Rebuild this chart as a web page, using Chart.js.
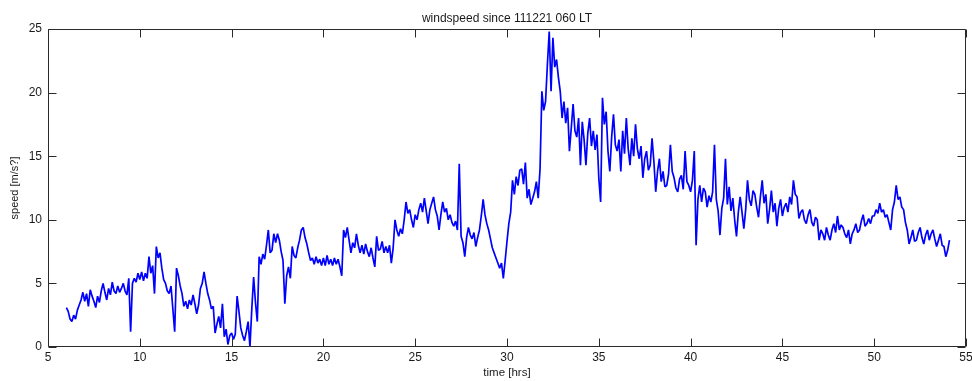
<!DOCTYPE html>
<html><head><meta charset="utf-8">
<script src="https://cdn.jsdelivr.net/npm/chart.js@4.4.1/dist/chart.umd.min.js"></script>
<style>html,body{margin:0;padding:0;background:#fff;}#wrap{width:972px;height:381px;}</style>
</head><body><div id="wrap"><canvas id="c" width="972" height="381"></canvas></div>
<script>
const chartTitle = 'windspeed since 111221 060 LT';
const xAxisLabel = 'time [hrs]';
const yAxisLabel = 'speed [m/s?]';
const xTicks = [5, 10, 15, 20, 25, 30, 35, 40, 45, 50, 55];
const yTicks = [0, 5, 10, 15, 20, 25];
const sampleStartHour = 6.0;
const sampleStepHour = 0.1;

const speed06to11 = [
  3.1,2.8,2.2,2.0,2.5,2.2,2.9,3.3,3.7,4.3,
  3.6,4.2,3.2,4.5,4.0,3.6,3.1,4.0,3.5,4.4,
  5.0,4.3,3.7,4.6,4.1,5.1,4.4,4.2,4.8,4.3,
  4.6,5.0,4.4,4.1,5.4,1.2,5.0,5.4,5.1,5.8,
  5.3,5.9,5.2,5.8,5.4,7.1,5.8,6.4,4.2,7.9,
  7.0,7.4,6.2,5.3,5.0,4.4,4.2,4.8,3.0,1.2
];
const speed12to17 = [
  6.2,5.6,4.8,4.2,3.2,3.6,3.0,3.7,3.3,4.1,
  3.4,2.6,3.3,4.6,5.0,5.9,5.0,4.2,3.7,3.0,
  3.2,1.1,1.8,2.4,1.5,3.4,0.8,1.4,0.2,0.9,
  1.1,0.6,1.0,4.0,2.8,1.5,0.9,0.5,1.2,2.0,
  0.0,3.0,5.5,3.5,2.0,7.1,6.5,7.3,6.9,8.0,
  9.2,7.4,7.6,8.9,8.2,8.9,8.4,7.5,6.8,3.4
];
const speed18to23 = [
  5.6,6.3,5.4,7.9,7.2,7.0,7.8,8.4,9.2,9.4,
  8.6,8.1,7.4,6.8,7.0,6.5,7.1,6.6,6.9,6.4,
  7.0,6.4,7.2,6.5,6.9,6.4,7.0,6.5,6.9,6.3,
  5.6,9.2,8.6,9.4,8.4,7.4,8.2,7.8,8.9,8.0,
  7.4,8.0,7.3,8.1,7.5,7.1,7.8,7.0,6.3,8.7,
  7.6,7.7,8.3,7.4,7.9,7.4,8.0,6.6,7.8,10.0
];
const speed24to29 = [
  9.2,8.7,9.3,8.9,10.0,11.4,10.5,10.8,10.0,9.4,
  10.4,10.0,10.8,11.3,10.6,11.7,10.7,9.7,10.8,11.3,
  11.8,10.8,10.3,9.2,10.4,11.4,10.6,10.9,10.0,10.4,
  9.8,9.5,9.9,9.2,14.4,8.7,8.2,7.1,8.6,9.4,
  8.8,8.5,9.0,7.9,8.6,9.2,10.3,11.6,10.4,9.7,
  9.2,8.5,7.8,7.4,7.0,6.6,6.2,6.6,5.4,6.8
];
const speed30to35 = [
  8.3,9.7,10.6,13.1,12.0,13.4,12.7,13.9,14.0,12.8,
  14.5,11.7,12.4,11.2,11.7,12.2,13.0,11.7,14.0,20.1,
  18.6,19.3,22.2,24.8,20.1,24.3,22.0,22.6,21.2,20.1,
  18.0,19.3,17.6,18.8,15.4,17.2,19.1,17.0,16.5,18.0,
  14.3,17.7,16.3,14.3,16.8,18.0,15.8,17.0,15.5,16.7,
  13.3,11.4,19.6,17.5,18.5,15.4,13.8,16.5,18.3,15.9
];
const speed36to41 = [
  15.4,16.3,13.8,17.0,15.2,18.0,15.6,14.3,16.4,15.0,
  17.5,15.6,14.8,15.8,13.3,14.8,15.4,13.9,14.3,16.4,
  14.6,12.2,13.8,14.8,13.0,13.8,12.6,12.7,13.6,15.9,
  13.8,13.3,12.5,12.2,13.2,13.5,12.4,15.4,13.0,12.7,
  12.2,13.1,15.4,8.0,11.6,12.7,11.4,12.5,12.2,11.0,
  11.9,11.4,12.2,15.9,11.6,10.7,8.8,10.9,11.7,14.8
];
const speed42to47 = [
  11.2,12.6,10.7,11.7,10.0,8.7,10.6,11.8,10.6,9.3,
  10.8,13.1,11.6,11.1,12.3,12.0,11.0,10.2,11.8,13.1,
  11.3,12.0,9.7,10.8,12.3,10.6,11.3,9.5,10.9,11.6,
  10.3,11.0,11.3,10.6,11.8,11.2,13.1,12.0,11.8,10.1,
  10.6,10.8,10.0,9.7,10.4,10.8,9.8,9.5,10.2,10.0,
  8.4,9.2,8.9,8.4,9.4,8.8,8.4,9.2,9.7,9.0
];
const speed48to54 = [
  10.3,9.2,9.6,9.4,8.9,8.6,9.2,8.1,8.9,9.2,
  9.7,9.0,9.2,9.9,10.4,9.5,9.7,10.1,9.7,10.3,
  10.3,10.8,10.5,11.3,10.6,10.8,10.2,10.4,9.8,9.2,
  10.8,11.4,12.7,11.6,11.8,11.0,10.8,9.8,9.2,8.1,
  8.6,9.2,8.3,8.4,9.0,9.4,8.6,8.1,8.8,9.2,
  8.4,8.9,9.2,8.5,7.9,8.4,8.9,8.0,7.9,7.1,
  7.6,8.4
];

const speedValues = [].concat(speed06to11, speed12to17, speed18to23, speed24to29,
  speed30to35, speed36to41, speed42to47, speed48to54);
const points = speedValues.map((v, i) => ({ x: +(sampleStartHour + i * sampleStepHour).toFixed(2), y: v }));

const FONT = '"Liberation Sans", Arial, Helvetica, sans-serif';
const TEXT = '#1a1a1a';

const matlabFrame = {
  id: 'matlabFrame',
  afterDatasetsDraw(chart) {
    const { ctx, chartArea: a, scales: { x, y } } = chart;
    const L = Math.round(a.left) + 0.5, R = Math.round(a.right) - 0.5;
    const T = Math.round(a.top) + 0.5, B = Math.round(a.bottom) - 0.5;
    const len = 8;
    ctx.save();
    ctx.strokeStyle = '#2a2a2a';
    ctx.lineWidth = 1;
    ctx.beginPath();
    ctx.moveTo(L, T); ctx.lineTo(R, T); ctx.lineTo(R, B); ctx.lineTo(L, B); ctx.closePath();
    x.ticks.forEach(t => {
      const px = Math.round(x.getPixelForValue(t.value)) + 0.5;
      ctx.moveTo(px, B); ctx.lineTo(px, B - len);
      ctx.moveTo(px, T); ctx.lineTo(px, T + len);
    });
    y.ticks.forEach(t => {
      const py = Math.round(y.getPixelForValue(t.value)) + 0.5;
      ctx.moveTo(L, py); ctx.lineTo(L + len, py);
      ctx.moveTo(R, py); ctx.lineTo(R - len, py);
    });
    ctx.stroke();
    ctx.restore();
  }
};

new Chart(document.getElementById('c'), {
  type: 'line',
  data: {
    datasets: [{
      data: points,
      borderColor: '#0000ff',
      borderWidth: 1.7,
      borderJoinStyle: 'bevel',
      pointRadius: 0,
      tension: 0,
      fill: false
    }]
  },
  options: {
    responsive: false,
    animation: false,
    devicePixelRatio: 1,
    layout: { padding: { left: 0, right: 6, top: 0, bottom: 0 } },
    plugins: {
      legend: { display: false },
      tooltip: { enabled: false },
      title: {
        display: true,
        text: chartTitle,
        fullSize: false,
        color: TEXT,
        font: { family: FONT, size: 12, weight: 'normal', lineHeight: 1.2 },
        padding: { top: 11, bottom: 3.6 }
      }
    },
    scales: {
      x: {
        type: 'linear',
        min: 5, max: 55,
        afterBuildTicks: s => { s.ticks = xTicks.map(v => ({ value: v })); },
        afterFit: s => { s.height = 34; s.paddingLeft = 0; s.paddingRight = 0; },
        grid: { display: false, drawTicks: false },
        border: { display: false },
        ticks: { color: TEXT, font: { family: FONT, size: 12 }, padding: 3, maxRotation: 0, autoSkip: false },
        title: { display: true, text: xAxisLabel, color: TEXT,
          font: { family: FONT, size: 11.5, lineHeight: 1.2 }, padding: { top: 0, bottom: 1 } }
      },
      y: {
        type: 'linear',
        min: 0, max: 25,
        afterBuildTicks: s => { s.ticks = yTicks.map(v => ({ value: v })); },
        afterFit: s => { s.width = 48; s.paddingTop = 0; s.paddingBottom = 0; },
        grid: { display: false, drawTicks: false },
        border: { display: false },
        ticks: { color: TEXT, font: { family: FONT, size: 12 }, padding: 6, autoSkip: false },
        title: { display: true, text: yAxisLabel, color: TEXT,
          font: { family: FONT, size: 11, lineHeight: 1.2 }, padding: { top: 8.4, bottom: 0 } }
      }
    }
  },
  plugins: [matlabFrame]
});
</script>
</body></html>
